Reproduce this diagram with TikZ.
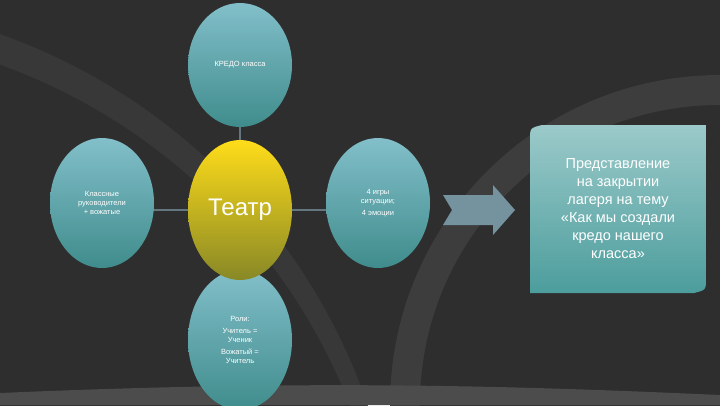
\documentclass[tikz,border=0pt]{standalone}
\usepackage{fontspec}
\setmainfont{Liberation Sans}
\usetikzlibrary{shapes.geometric}
\begin{document}
\begin{tikzpicture}[x=1pt,y=-1pt,
 bub/.style={ellipse,draw=none,top color=blue!15!cyan!40!gray!70,bottom color=cyan!40!black!75,text=white,align=center,font=\fontsize{7.5}{9}\selectfont,inner sep=0pt},
 link/.style={draw=cyan!30!black!80,line width=1.2pt}]
\useasboundingbox (0,0) rectangle (720,405);
\clip (0,0) rectangle (720,405);
\fill[black!82] (0,0) rectangle (720,405);
\fill[black!76] (720,405) circle[radius=330pt];
\fill[black!82] (720,405) circle[radius=300pt];
\fill[black!78] (-200,600) circle[radius=600pt];
\fill[black!82] (-200,620) circle[radius=590pt];
\fill[black!70] (0,393) .. controls (300,380) and (500,385) .. (720,395) -- (720,405) -- (0,405) -- cycle;
\coordinate (c) at (240,210);
\draw[link] (240,120) -- (240,350);
\draw[link] (140,210) -- (340,210);
\node[bub,minimum width=104pt,minimum height=124pt] (top) at (240,65) {КРЕДО класса};
\node[bub,minimum width=104pt,minimum height=130pt] (left) at (102,203) {Классные\\руководители\\+ вожатые};
\node[bub,minimum width=104pt,minimum height=130pt] (right) at (378,203) {4 игры\\ситуации;\\[3pt]4 эмоции};
\node[bub,minimum width=104pt,minimum height=140pt] (bot) at (240,340) {Роли:\\[3pt]Учитель =\\Ученик\\[3pt]Вожатый =\\Учитель};
\node[ellipse,minimum width=104pt,minimum height=140pt,top color=yellow!70!orange!90,bottom color=yellow!45!black!85,text=white,font=\fontsize{24}{26}\selectfont] (th) at (c) {Театр};
\fill[cyan!40!black!70] (443,195) -- (493,195) -- (493,185) -- (515,210) -- (493,235) -- (493,225) -- (443,225) -- (452,210) -- cycle;
\path[top color=cyan!30!gray!60!white,bottom color=cyan!45!black!70] (530,140) .. controls (530,128) .. (542,125) -- (706,125) -- (706,278) .. controls (706,290) .. (694,293) -- (530,293) -- cycle;
\node[text=white,align=center,font=\fontsize{14.5}{18}\selectfont] (box) at (618,209) {Представление\\на закрытии\\лагеря на тему\\«Как мы создали\\кредо нашего\\класса»};
\end{tikzpicture}
\end{document}
